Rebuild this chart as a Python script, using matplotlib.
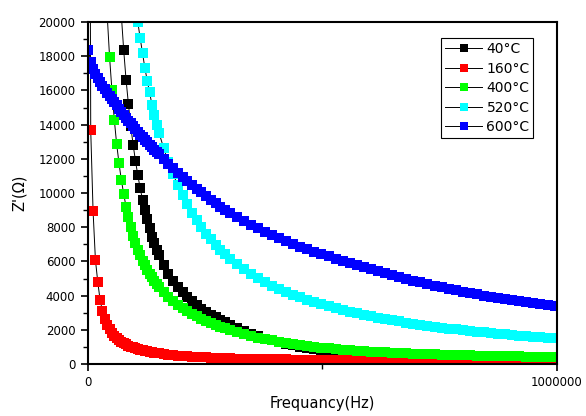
import numpy as np
import matplotlib
matplotlib.use('Agg')
import matplotlib.pyplot as plt
from matplotlib.ticker import MultipleLocator, FixedLocator

nan = np.nan

# frequency sweep (Hz)
freq = [1000, 6020, 11040, 16060, 21080, 26100, 31120, 36140, 41160, 46180,
        51200, 56220, 61240, 66260, 71280, 76300, 81320, 86340, 91360, 96380,
        101400, 106420, 111440, 116460, 121480, 126500, 131520, 136540, 141560,
        146580, 151600,
        161640, 171680, 181720, 191760, 201800, 211840, 221880, 231920, 241960,
        252000, 262040, 272080, 282120, 292160, 302200,
        317260, 332320, 347380, 362440, 377500, 392560, 407620, 422680, 437740,
        452800, 467860, 482920, 497980, 513040, 528100, 543160, 558220, 573280,
        588340, 603400, 618460, 633520, 648580, 663640, 678700, 693760, 708820,
        723880, 738940, 754000, 769060, 784120, 799180, 814240, 829300, 844360,
        859420, 874480, 889540, 904600, 919660, 934720, 949780, 964840, 979900,
        994960, 999980]

z_40 = [nan, nan, nan, nan, nan, nan, nan, nan, nan, nan, nan, nan, nan, nan,
        20400, 18360, 16630, 15210, 13900, 12830, 11880, 11035, 10280, 9610,
        9000, 8455, 7930, 7440, 7048, 6689, 6359,
        5783, 5293, 4872, 4506, 4185, 3900, 3660, 3440, 3240, 3050, 2880, 2720,
        2570, 2430, 2300,
        2100, 1925, 1765, 1620, 1490, 1375, 1270, 1174, 1093, 1020, 953, 892,
        836, 785, 739, 697, 658, 622, 589, 559, 531, 505, 481, 458, 437, 417,
        399, 381, 365, 350, 336, 323, 310, 298, 287, 276, 266, 256, 247, 238,
        230, 222, 215, 208, 201, 195, 193]

z_160 = [60000, 13670, 8920, 6080, 4790, 3720, 3100, 2640, 2300, 2040, 1835,
         1665, 1525, 1410, 1310, 1222, 1146, 1080, 1020, 967, 920, 877, 838,
         802, 769, 739, 711, 685, 661, 638, 617,
         580, 548, 519, 493, 470, 450, 431, 414, 398, 384, 371, 359, 348, 338,
         328,
         318, 308, 300, 291, 284, 277, 270, 264, 258, 252, 247, 242, 237, 232,
         228, 224, 220, 216, 212, 209, 206, 203, 199, 197, 194, 191, 189, 186,
         184, 181, 179, 177, 174, 172, 170, 168, 166, 165, 163, 161, 159, 157,
         156, 154, 153, 151, 150]

z_400 = [nan, nan, nan, nan, nan, nan, nan, nan,
         20400, 17960, 16010, 14300, 12880, 11750, 10760, 9960, 9190, 8570,
         8020, 7480, 7050, 6682, 6353, 6053, 5778, 5526, 5292, 5077, 4874, 4686,
         4518,
         4207, 3926, 3682, 3463, 3266, 3093, 2934, 2790, 2657, 2536, 2412, 2297,
         2191, 2091, 2000,
         1869, 1751, 1647, 1548, 1460, 1376, 1303, 1233, 1170, 1111, 1056, 1004,
         956, 916, 881, 847, 815, 783, 755, 728, 705, 683, 663, 643, 625, 607,
         591, 577, 563, 550, 537, 525, 513, 502, 493, 483, 474, 464, 456, 448,
         440, 433, 426, 420, 413, 407, 405]

z_520 = [nan, nan, nan, nan, nan, nan, nan, nan, nan, nan, nan, nan, nan, nan,
         nan, nan, nan, nan, nan, nan,
         21035, 19980, 19060, 18180, 17310, 16570, 15880, 15170, 14590, 14000,
         13520,
         12615, 11805, 11095, 10450, 9876, 9339, 8851, 8408, 8001, 7627, 7289,
         6972, 6682, 6407, 6158,
         5831, 5534, 5262, 5013, 4784, 4572, 4384, 4211, 4051, 3900, 3760, 3630,
         3506, 3388, 3276, 3168, 3069, 2974, 2883, 2797, 2715, 2636, 2561, 2489,
         2421, 2355, 2294, 2235, 2180, 2126, 2074, 2025, 1977, 1933, 1890, 1848,
         1807, 1769, 1731, 1695, 1661, 1629, 1598, 1567, 1538, 1510, 1500]

z_600 = [18390, 17650, 17250, 16950, 16700, 16480, 16270, 16070, 15870, 15680,
         15490, 15300, 15120, 14940, 14760, 14580, 14410, 14240, 14070, 13900,
         13740, 13580, 13420, 13270, 13120, 12970, 12820, 12680, 12540, 12400,
         12260,
         11980, 11710, 11450, 11200, 10950, 10715, 10485, 10260, 10040, 9825,
         9615, 9410, 9210, 9015, 8825,
         8587, 8359, 8141, 7930, 7728, 7535, 7351, 7175, 7008, 6850, 6699, 6557,
         6424, 6299, 6165, 6034, 5906, 5780, 5657, 5536, 5418, 5303, 5190, 5080,
         4973, 4869, 4768, 4669, 4574, 4482, 4393, 4307, 4224, 4144, 4067, 3993,
         3922, 3854, 3789, 3727, 3668, 3612, 3559, 3509, 3462, 3417, 3402]

labels = ['40°C', '160°C', '400°C', '520°C', '600°C']
colors = ['#000000', '#ff0000', '#00ff00', '#00ffff', '#0000ff']

fig = plt.figure(figsize=(5.86, 4.16), dpi=100)
ax = fig.add_axes([0.150, 0.125, 0.8005, 0.822])

for z, lab, c in zip([z_40, z_160, z_400, z_520, z_600], labels, colors):
    ax.plot(freq, z, color='black', lw=0.7, marker='s', ms=7.2,
            mfc=c, mec=c, mew=0, label=lab)

ax.set_xlim(0, 1000000)
ax.set_ylim(0, 20000)
ax.xaxis.set_major_locator(FixedLocator([0, 1000000]))
ax.xaxis.set_minor_locator(FixedLocator([500000]))
ax.set_xticklabels(['0', '1000000'])
ax.yaxis.set_major_locator(MultipleLocator(2000))
ax.yaxis.set_minor_locator(MultipleLocator(1000))
ax.ticklabel_format(axis='y', style='plain', useOffset=False)

ax.tick_params(which='major', direction='out', length=5, width=1.2,
               labelsize=8.5, pad=4)
ax.tick_params(which='minor', direction='out', length=3.5, width=1)
for sp in ax.spines.values():
    sp.set_linewidth(1.5)

ax.set_xlabel('Frequancy(Hz)', fontsize=10.5, labelpad=5)
ax.set_ylabel("Z'(Ω)", fontsize=10.5, labelpad=8)

leg = ax.legend(loc='upper right', bbox_to_anchor=(0.9495, 0.952), fontsize=10,
                frameon=True, fancybox=False, edgecolor='black', framealpha=1,
                handlelength=2.7, handletextpad=0.3, labelspacing=0.4,
                borderpad=0.26, borderaxespad=0, markerscale=0.8)
leg.get_frame().set_linewidth(0.8)

fig.savefig('out.png', dpi=100)
